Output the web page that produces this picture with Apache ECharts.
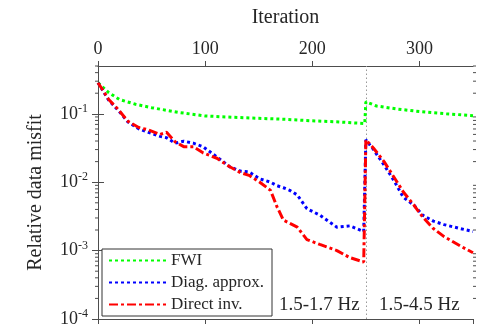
<!DOCTYPE html>
<html>
<head>
<meta charset="utf-8">
<script src="https://cdn.jsdelivr.net/npm/echarts@6/dist/echarts.min.js"></script>
<style>
  html, body { margin: 0; padding: 0; background: #fff; }
  #chart { width: 498px; height: 336px; }
</style>
</head>
<body>
<div id="chart"></div>
<script>
// FWI (green) curve
const fwiIter = [0, 10, 20, 35, 50, 75, 100, 125, 150, 175, 200, 225, 249, 250, 260, 280, 300, 325, 350];
const fwiMisfit = [0.285, 0.204, 0.162, 0.138, 0.123, 0.105, 0.093, 0.089, 0.086, 0.083, 0.079, 0.076, 0.072,
  0.15, 0.13, 0.117, 0.108, 0.10, 0.094];

// preconditioned curves share the same iterations
const precIter = [0, 10, 19, 28, 38, 47, 58, 64, 72, 80, 89, 98, 111, 123, 133, 141, 151, 161, 167, 173, 179,
  186, 195, 207, 223, 235, 248, 250, 257, 267, 276, 285, 295, 303, 313, 323, 338, 350];
const diagMisfit = [0.285, 0.158, 0.112, 0.0759, 0.0603, 0.0537, 0.0468, 0.0447, 0.0372, 0.0398, 0.0372, 0.0331,
  0.0234, 0.0168, 0.0145, 0.0141, 0.0112, 0.0100, 0.0089, 0.0083, 0.0076, 0.0065, 0.0041, 0.0033, 0.0022, 0.0023,
  0.0019, 0.0417, 0.0302, 0.0178, 0.0107, 0.0060, 0.0046, 0.0033, 0.0027, 0.0024, 0.0021, 0.0019];
const directMisfit = [0.285, 0.162, 0.115, 0.0776, 0.0631, 0.0582, 0.0501, 0.0537, 0.0389, 0.0331, 0.0331, 0.0269,
  0.0224, 0.0168, 0.0138, 0.0126, 0.0100, 0.0076, 0.0044, 0.0028, 0.0025, 0.0022, 0.00145, 0.00123, 0.0010,
  0.00079, 0.00068, 0.0417, 0.0316, 0.0200, 0.0120, 0.0072, 0.0046, 0.0031, 0.0021, 0.0016, 0.00117, 0.00093];

const seriesNames = ['FWI', 'Diag. approx.', 'Direct inv.'];
const bandLabels = ['1.5-1.7 Hz', '1.5-4.5 Hz'];
const switchIter = 250;

// log minor ticks 2..9 per decade
const minorTicks = [];
[1e-4, 1e-3, 1e-2, 1e-1].forEach(function (d) {
  for (let k = 2; k <= 9; k++) {
    if (d * k <= 0.5) minorTicks.push([0, d * k]);
  }
});

const FONT = '"Liberation Serif", "Times New Roman", serif';
const TXT = '#262626';
const AX = '#4d4d4d';

function pairs(xs, ys) {
  return xs.map(function (x, i) { return [x, ys[i]]; });
}

function supLabel(v) {
  const e = Math.round(Math.log10(v));
  return '10{s|' + e + '}';
}

const chart = echarts.init(document.getElementById('chart'));

chart.setOption({
  animation: false,
  backgroundColor: '#fff',
  textStyle: { fontFamily: FONT },
  grid: { left: 98, right: 25, top: 66, bottom: 17, containLabel: false },
  legend: {
    data: seriesNames,
    orient: 'vertical',
    left: 102,
    top: 249,
    itemWidth: 57,
    itemHeight: 14,
    itemGap: 5,
    padding: [3, 8, 3, 6],
    borderColor: '#333',
    borderWidth: 1,
    backgroundColor: '#fff',
    itemStyle: { opacity: 0 },
    textStyle: { fontFamily: FONT, fontSize: 17, color: TXT }
  },
  xAxis: [{
    type: 'value',
    position: 'top',
    min: 0,
    max: 350,
    interval: 100,
    name: 'Iteration',
    nameLocation: 'middle',
    nameGap: 38,
    nameTextStyle: { fontFamily: FONT, fontSize: 20, color: TXT },
    axisLine: { lineStyle: { color: AX, width: 1 } },
    axisTick: { inside: false, length: 5, lineStyle: { color: AX } },
    axisLabel: { fontFamily: FONT, fontSize: 18, color: TXT, margin: 8, showMaxLabel: false },
    splitLine: { show: false }
  }, {
    type: 'value',
    position: 'bottom',
    min: 0,
    max: 350,
    interval: 100,
    axisLine: { lineStyle: { color: AX, width: 1 } },
    axisTick: { inside: false, length: 5, lineStyle: { color: AX } },
    axisLabel: { show: false },
    splitLine: { show: false }
  }],
  yAxis: [{
    type: 'log',
    logBase: 10,
    min: 1e-4,
    max: 0.5,
    splitNumber: 4,
    position: 'left',
    name: 'Relative data misfit',
    nameLocation: 'middle',
    nameGap: 52,
    nameTextStyle: { fontFamily: FONT, fontSize: 20, color: TXT },
    axisLine: { show: true, lineStyle: { color: AX, width: 1 } },
    axisTick: { show: true, inside: false, length: 6, lineStyle: { color: AX } },
    axisLabel: {
      fontFamily: FONT, fontSize: 18, color: TXT, margin: 10, showMaxLabel: false,
      formatter: supLabel,
      rich: { s: { fontFamily: FONT, fontSize: 12, color: TXT, verticalAlign: 'top', padding: [0, 0, 10, 0] } }
    },
    splitLine: { show: false }
  }, {
    type: 'log',
    logBase: 10,
    min: 1e-4,
    max: 0.5,
    splitNumber: 4,
    position: 'right',
    axisLine: { show: true, lineStyle: { color: AX, width: 1 } },
    axisTick: { show: true, inside: false, length: 6, lineStyle: { color: AX } },
    axisLabel: { show: false },
    splitLine: { show: false }
  }],
  series: [{
    name: seriesNames[0],
    type: 'line',
    data: pairs(fwiIter, fwiMisfit),
    symbol: 'none',
    z: 3,
    lineStyle: { color: '#00ff00', width: 3, type: [3, 3] },
    itemStyle: { color: '#00ff00' },
    markLine: {
      silent: true,
      symbol: ['none', 'none'],
      label: { show: false },
      lineStyle: { color: '#999', width: 1, type: [1.5, 2.5] },
      data: [{ xAxis: switchIter }],
      z: 1
    }
  }, {
    name: seriesNames[1],
    type: 'line',
    data: pairs(precIter, diagMisfit),
    symbol: 'none',
    z: 4,
    lineStyle: { color: '#0000ff', width: 3, type: [3, 3] },
    itemStyle: { color: '#0000ff' }
  }, {
    name: seriesNames[2],
    type: 'line',
    data: pairs(precIter, directMisfit),
    symbol: 'none',
    z: 5,
    lineStyle: { color: '#ff0000', width: 3, type: [9, 3, 3, 3] },
    itemStyle: { color: '#ff0000' }
  }, {
    name: 'minorTicks',
    type: 'custom',
    silent: true,
    data: minorTicks,
    renderItem: function (params, api) {
      const left = api.coord([0, api.value(1)]);
      const right = api.coord([350, api.value(1)]);
      const st = { stroke: AX, lineWidth: 1 };
      return {
        type: 'group',
        children: [
          { type: 'line', shape: { x1: left[0] - 3, y1: left[1], x2: left[0], y2: left[1] }, style: st },
          { type: 'line', shape: { x1: right[0], y1: right[1], x2: right[0] + 3, y2: right[1] }, style: st }
        ]
      };
    }
  }],
  graphic: [{
    type: 'text', left: 279, top: 296,
    style: { text: bandLabels[0], font: '19px "Liberation Serif"', fill: TXT }
  }, {
    type: 'text', left: 379, top: 296,
    style: { text: bandLabels[1], font: '19px "Liberation Serif"', fill: TXT }
  }]
});
</script>
</body>
</html>
